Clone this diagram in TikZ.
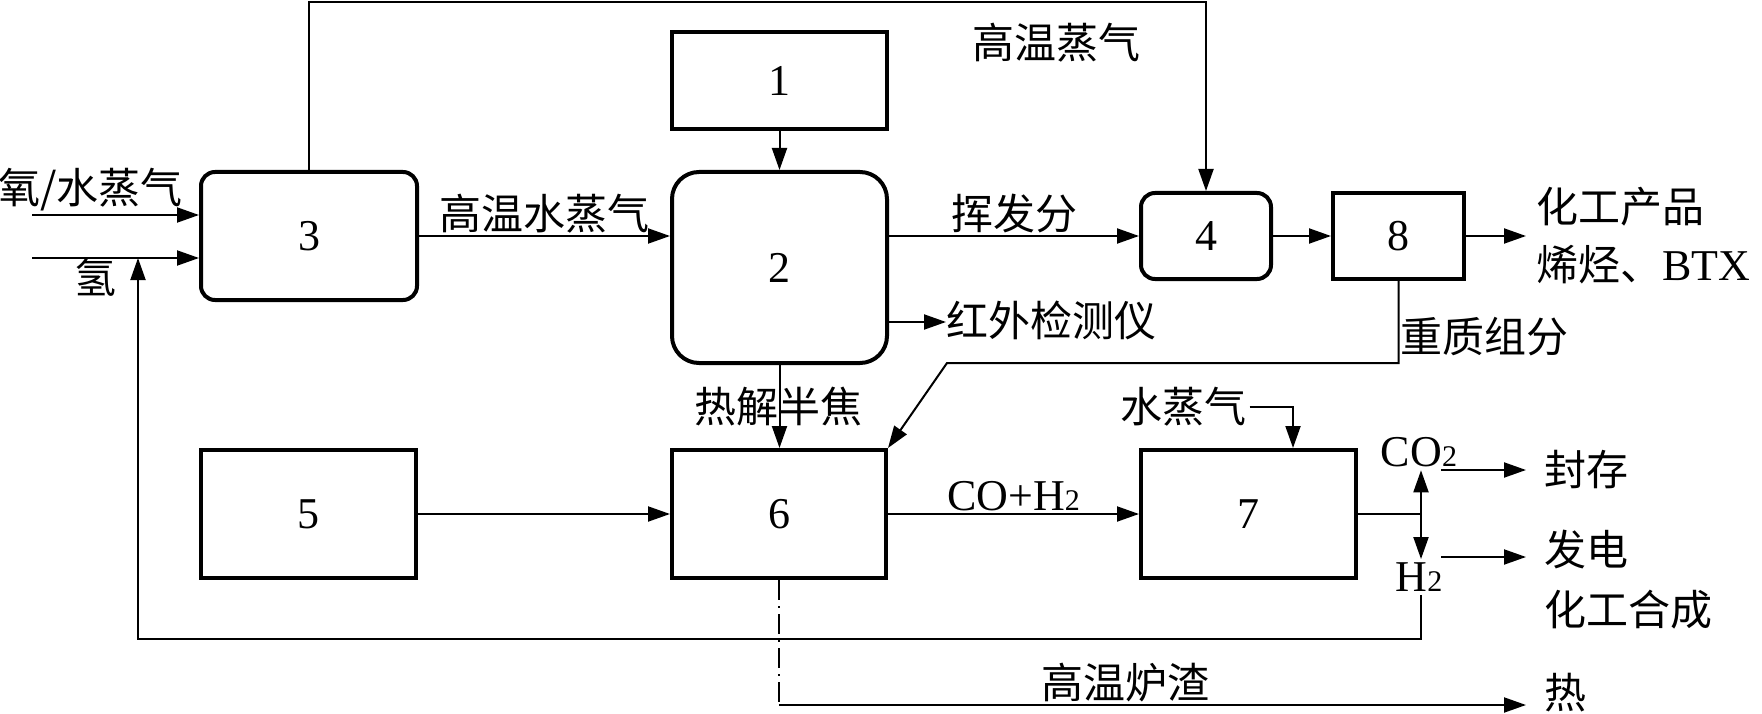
\documentclass[tikz,border=0pt]{standalone}
\usepackage{fontspec}
\setmainfont{Liberation Serif}
\newfontfamily\cjk{Noto Sans CJK SC}
\newcommand{\sml}[1]{{\fontsize{30}{30}\selectfont #1}}
\usetikzlibrary{arrows.meta}
\usetikzlibrary{calc}

\begin{document}
\begin{tikzpicture}[x=1pt,y=-1pt,
  font=\fontsize{44}{52}\selectfont,
  box/.style={draw,line width=4pt,minimum width=215pt,minimum height=128pt},
  flow/.style={line width=2pt,-{Triangle[length=22pt,width=15pt]}},
  plain/.style={line width=2pt},
  zh/.style={font=\fontsize{42}{50}\selectfont\cjk}]
  \useasboundingbox (0,0) rectangle (1762,714);

  % units
  \node[box,minimum height=97pt] (b1) at (779.5,80.5) {1};
  \node[box,minimum height=191pt,rounded corners=27pt] (b2) at (779.5,267.5) {2};
  \node[box,minimum width=216pt,rounded corners=14pt] (b3) at (309,236) {3};
  \node[box,minimum width=130pt,minimum height=86pt,rounded corners=14pt] (b4) at (1206,236) {4};
  \node[box,minimum width=131pt,minimum height=86pt] (b8) at (1398.5,236) {8};
  \node[box] (b5) at (308.5,514) {5};
  \node[box,minimum width=214pt] (b6) at (779,514) {6};
  \node[box] (b7) at (1248.5,514) {7};

  % free ends
  \coordinate (top) at (0,2);
  \coordinate (in1) at (32,215);
  \coordinate (in2) at (32,258);
  \coordinate (hv) at (947,363);
  \coordinate (jn) at (1421,514);
  \coordinate (fb) at (138,639);
  \coordinate (slag) at (779,705);
  \coordinate (o8) at (1526,236);
  \coordinate (ir) at (946,322);
  \coordinate (s1) at (1441,470);
  \coordinate (o1) at (1526,470);
  \coordinate (s2) at (1441,557);
  \coordinate (o2) at (1526,557);
  \coordinate (o3) at (1526,705);

  % labels
  \node[zh,anchor=west,inner sep=0pt] (oxy) at (-2,190) {氧/水蒸气};
  \node[zh] (hyd) at (95,277) {氢};
  \node[zh] (hs) at (1056,43) {高温蒸气};
  \node[zh,anchor=west,inner sep=0pt] (irl) at (946,320) {红外检测仪};
  \node[zh,anchor=west,inner sep=0pt] (heavy) at (1400,337) {重质组分};
  \node[zh,anchor=west,inner sep=0pt] (prod) at (1536,207) {化工产品};
  \node[zh,anchor=west,inner sep=0pt] (olef) at (1536,265) {烯烃、{\rmfamily\fontsize{44}{52}\selectfont BTX}};
  \node[zh] (coke) at (778,407) {热解半焦};
  \node[zh] (steam) at (1183,407) {水蒸气};
  \node (co2) at (1419,452) {CO\sml{2}};
  \node (h2) at (1419,577) {H\sml{2}};
  \node[zh,anchor=west,inner sep=0pt] (store) at (1544,470) {封存};
  \node[zh,anchor=west,inner sep=0pt] (power) at (1544,550) {发电};
  \node[zh,anchor=west,inner sep=0pt] (synth) at (1544,610) {化工合成};
  \node[zh] (slagl) at (1125,683) {高温炉渣};
  \node[zh,anchor=west,inner sep=0pt] (heat) at (1544,693) {热};

  % streams
  \draw[flow] (b3.north) -- (b3.north |- top) -| (b4.north);
  \draw[flow] (in1) -- (in1 -| b3.west);
  \draw[flow] (in2) -- (in2 -| b3.west);
  \draw[flow] (b3.east) -- node[zh,above,inner sep=2pt]{高温水蒸气} (b3.east -| b2.west);
  \draw[flow] (b1) -- (b2);
  \draw[flow] (b2.east |- b4.west) -- node[zh,above,inner sep=2pt]{挥发分} (b4.west);
  \draw[flow] (b4) -- (b8);
  \draw[flow] (b8) -- (o8);
  \draw[flow] (b2.east |- ir) -- (ir);
  \draw[flow] (b8.south) |- (hv) -- (b6.north east);
  \draw[flow] (b2.south) -- (b2.south |- b6.north);
  \draw[flow] (b5) -- (b6);
  \draw[flow] (b6) -- node[above,inner sep=2pt]{CO+H\sml{2}} (b7);
  \draw[flow] (steam.east) -| ([xshift=44.5pt]b7.north);
  \draw[plain] (b7.east) -- (jn);
  \draw[flow] (jn) -- (jn |- co2.south);
  \draw[flow] (jn) -- (jn |- h2.north);
  \draw[flow] (s1) -- (o1);
  \draw[flow] (s2) -- (o2);
  \draw[flow] (jn |- h2.south) |- (fb) -- (fb |- in2);
  \draw[plain,dash pattern=on 20pt off 6pt on 2pt off 6pt] (b6.south) -- (slag);
  \draw[flow] (slag) -- (o3);
\end{tikzpicture}
\end{document}
